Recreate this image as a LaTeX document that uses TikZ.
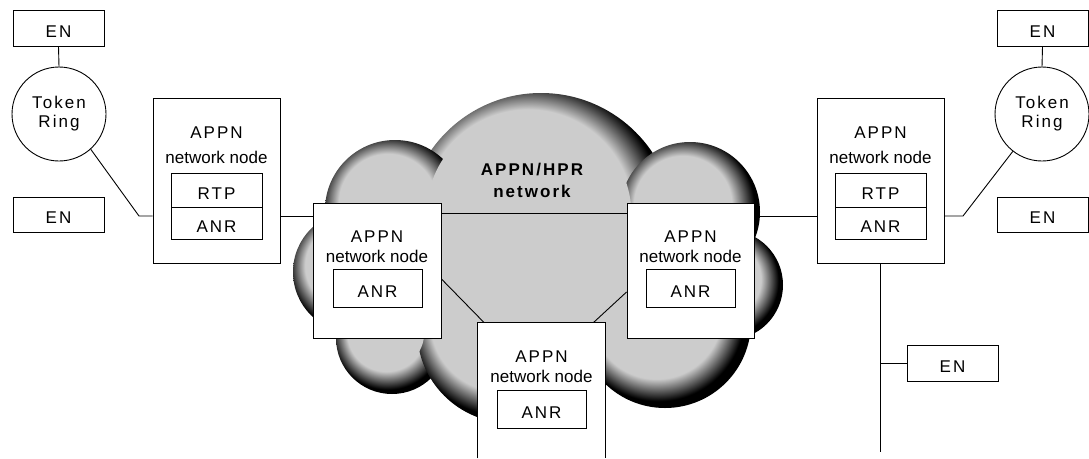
\documentclass[tikz,border=0pt]{standalone}
\usepackage{fontspec}
\setmainfont{Liberation Sans}[LetterSpace=12]
\newfontfamily\plainsans{Liberation Sans}
\usepackage{tikz}
\usetikzlibrary{positioning}
\definecolor{cloudgray}{gray}{0.8}
\pgfdeclareradialshading{bumpA}{\pgfpoint{-4bp}{4bp}}{color(0bp)=(cloudgray); color(19.5bp)=(cloudgray); color(25bp)=(black); color(50bp)=(black)}
\pgfdeclareradialshading{bumpB}{\pgfpoint{-4bp}{4bp}}{color(0bp)=(cloudgray); color(19bp)=(cloudgray); color(25bp)=(black); color(50bp)=(black)}
\pgfdeclareradialshading{bumpC}{\pgfpoint{-4bp}{4bp}}{color(0bp)=(cloudgray); color(17.5bp)=(cloudgray); color(25bp)=(black); color(50bp)=(black)}

\tikzset{
  box/.style={shape=rectangle, draw=black, fill=white, line width=0.9pt, inner sep=0pt},
  enbox/.style={box, minimum width=91pt, minimum height=36pt, text height=18pt, font=\fontsize{17}{20}\selectfont},
  subbox/.style={box, minimum width=90pt, minimum height=34pt, text height=18pt, font=\fontsize{17}{20}\selectfont},
  ring/.style={shape=circle, draw=black, fill=white, line width=0.9pt, minimum size=94pt, inner sep=0pt, align=center, font=\fontsize{17}{19}\selectfont},
  nnlbl/.style={align=center, inner sep=0pt, font=\fontsize{17}{25}\selectfont},
  cnlbl/.style={align=center, inner sep=0pt, font=\fontsize{17}{20}\selectfont},
  link/.style={draw=black, line width=0.9pt}
}

\begin{document}
\begin{tikzpicture}[x=1pt,y=-1pt]
  \useasboundingbox (0,0) rectangle (1089,458);

  % the cloud: shaded bumps, then the flat grey inside
  \foreach \cx/\cy/\r/\sh in {541/227/134/bumpA, 395/210/70/bumpC, 690/212/70/bumpC,
      354/272/61/bumpC, 728/285/55/bumpC, 392/338/56/bumpC, 510/330/93/bumpB, 665/322/86/bumpB}
    \shade[shading=\sh] (\cx,\cy) circle[radius=\r];
  \foreach \cx/\cy/\r/\k in {541/227/134/0.78, 395/210/70/0.7, 690/212/70/0.7,
      354/272/61/0.7, 728/285/55/0.7, 392/338/56/0.7, 510/330/93/0.76, 665/322/86/0.76}
    \fill[cloudgray] ({\cx-0.09*\r},{\cy-0.09*\r}) circle[radius={\k*\r-2}];
  \fill[cloudgray] (430,230) -- (540,170) -- (650,220) -- (660,320) -- (600,360)
    -- (520,380) -- (450,330) -- cycle;
  \node[cnlbl, font=\fontsize{17}{22}\selectfont\bfseries] (cloudlbl) at (532,180) {APPN/HPR\\network};

  % left side
  \node[enbox] (enTL) at (58.5,28) {EN};
  \node[enbox, minimum height=35pt] (enBL) at (58.5,214.5) {EN};
  \node[ring] (ringL) at (59,114) {Token\\Ring};
  \node[box, minimum width=127pt, minimum height=165pt] (nnL) at (216.5,180.5) {};
  \node[nnlbl] (nnLlbl) at (216.5,145) {APPN\\{\plainsans network node}};
  \node[subbox, minimum width=91pt] (rtpL) at (216.5,190) {RTP};
  \node[subbox, minimum width=91pt, minimum height=32pt, below=0pt of rtpL] (anrL) {ANR};

  % right side
  \node[enbox] (enTR) at (1042.5,28) {EN};
  \node[enbox, minimum height=35pt] (enBR) at (1042.5,214.5) {EN};
  \node[ring] (ringR) at (1042,114) {Token\\Ring};
  \node[box, minimum width=127pt, minimum height=165pt] (nnR) at (880.5,180.5) {};
  \node[nnlbl] (nnRlbl) at (880.5,145) {APPN\\{\plainsans network node}};
  \node[subbox, minimum width=91pt] (rtpR) at (880.5,190) {RTP};
  \node[subbox, minimum width=91pt, minimum height=32pt, below=0pt of rtpR] (anrR) {ANR};
  \node[enbox] (enLow) at (952.5,363) {EN};

  % nodes in the cloud
  \node[box, minimum width=128pt, minimum height=135pt] (cnL) at (377,270.5) {};
  \node[cnlbl] (cnLlbl) at (377,246.5) {APPN\\{\plainsans network node}};
  \node[subbox, minimum width=89pt, minimum height=38pt] (anrCL) at (377.5,288) {ANR};
  \node[box, minimum width=127pt, minimum height=135pt] (cnR) at (690.5,270.5) {};
  \node[cnlbl] (cnRlbl) at (690.5,246.5) {APPN\\{\plainsans network node}};
  \node[subbox, minimum width=89pt, minimum height=38pt] (anrCR) at (690.5,288) {ANR};
  \node[box, draw=none, minimum width=127pt, minimum height=135pt] (cnB) at (541.5,390.5) {};
  \draw[link] (cnB.south west) -- (cnB.north west) -- (cnB.north east) -- (cnB.south east);
  \node[cnlbl] (cnBlbl) at (541.5,366.5) {APPN\\{\plainsans network node}};
  \node[subbox, minimum width=89pt, minimum height=38pt] (anrCB) at (541.5,409) {ANR};

  % links
  \coordinate (bendL) at (139,216);
  \coordinate (bendR) at (963,216);
  \coordinate (midline) at (534,213);
  \coordinate (busend) at (880.5,452);
  \path[link] (enTL.south) -- (ringL.north);
  \path[link] (ringL.-48) -- (bendL) -- (bendL -| nnL.west);
  \path[link] (nnL.east |- bendL) -- (cnL.west |- bendL);
  \path[link] (cnL.east |- midline) -- (cnR.west |- midline);
  \path[link] ([yshift=-8.5pt]cnL.east) -- ([xshift=6.5pt]cnB.north west);
  \path[link] ([yshift=-21.5pt]cnR.west) -- ([xshift=-12pt]cnB.north east);
  \path[link] (cnR.east |- bendR) -- (nnR.west |- bendR);
  \path[link] (nnR.east |- bendR) -- (bendR) -- (ringR.-128);
  \path[link] (enTR.south) -- (ringR.north);
  \path[link] (nnR.south) -- (busend);
  \path[link] (enLow.west) -- (enLow.west -| busend);
\end{tikzpicture}
\end{document}
